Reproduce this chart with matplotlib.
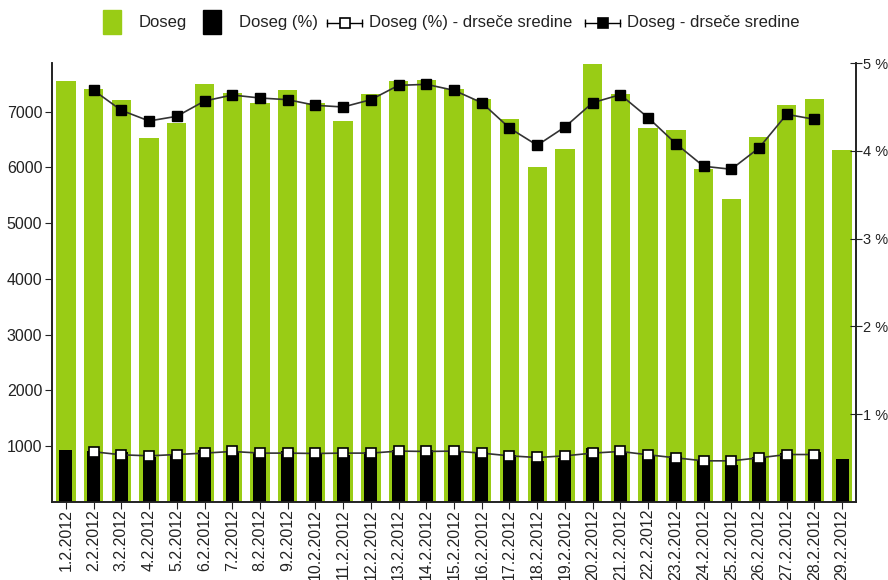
import numpy as np
import matplotlib
matplotlib.use("Agg")
from matplotlib import pyplot as plt
from matplotlib.patches import Rectangle

plt.rcParams['font.family'] = ['Liberation Sans', 'DejaVu Sans']

days = ["%d.2.2012" % d for d in range(1, 30)]

doseg = [7550, 7414, 7204, 6529, 6805, 7503, 7330, 7156, 7396, 7150,
         6828, 7324, 7550, 7563, 7414, 7235, 6876, 6009, 6338, 7862,
         7324, 6714, 6667, 5980, 5442, 6547, 7127, 7235, 6308]

doseg_pct = [0.59, 0.58, 0.565, 0.51, 0.535, 0.59, 0.575, 0.56, 0.58, 0.56,
             0.535, 0.575, 0.59, 0.595, 0.58, 0.57, 0.54, 0.47, 0.50, 0.615,
             0.575, 0.525, 0.525, 0.47, 0.425, 0.515, 0.56, 0.57, 0.49]

nan = np.nan
doseg_avg = [nan, 7384, 7025, 6834, 6918, 7192, 7300, 7246, 7216, 7115,
             7085, 7216, 7473, 7491, 7384, 7162, 6708, 6398, 6726, 7162,
             7306, 6894, 6428, 6022, 5968, 6350, 6953, 6864, nan]

pct_avg = [nan, 0.572, 0.538, 0.526, 0.541, 0.557, 0.576, 0.557, 0.557, 0.553,
           0.557, 0.557, 0.580, 0.576, 0.580, 0.557, 0.526, 0.507, 0.526, 0.557,
           0.576, 0.538, 0.503, 0.469, 0.469, 0.503, 0.541, 0.541, nan]

labels = ["Doseg", "Doseg (%)", "Doseg (%) - drse\u010de sredine", "Doseg - drse\u010de sredine"]

green = '#99cc15'
x = np.arange(len(days))

fig = plt.figure(figsize=(8.88, 5.80), dpi=100)
ax = fig.add_axes([0.0586, 0.1345, 0.9054, 0.7565])
ax2 = ax.twinx()

ax.bar(x, doseg, width=0.7, color=green, zorder=1)
ax.plot(x, doseg_avg, color='#333333', lw=1.2, marker='s', ms=7.5,
        mfc='black', mec='black', zorder=3)

ax2.bar(x, doseg_pct, width=0.47, color='black', zorder=1)
ax2.plot(x, pct_avg, color='#333333', lw=1.2, marker='s', ms=7,
         mfc='white', mec='black', mew=1.2, zorder=3)

ax.set_xlim(-0.5, len(days) - 0.5)
ax.set_ylim(0, 7870)
ax2.set_ylim(0, 5.0)

ax.set_yticks([1000, 2000, 3000, 4000, 5000, 6000, 7000])
ax2.set_yticks([1, 2, 3, 4, 5])
ax2.set_yticklabels(["%d %%" % v for v in range(1, 6)])
ax.set_xticks(x)
ax.set_xticklabels(days, rotation=90)

for a in (ax, ax2):
    a.spines['top'].set_visible(False)
    for s in a.spines.values():
        s.set_linewidth(1.2)
        s.set_color('#222222')
ax.tick_params(axis='y', direction='out', length=5, labelsize=11.5, colors='#222222', pad=2)
ax.tick_params(axis='x', direction='out', length=5, labelsize=11.5, colors='#222222', pad=0)
ax2.tick_params(axis='y', direction='inout', length=8, labelsize=10.5, colors='#222222', pad=1)

# legend drawn by hand in pixel space across the top
lg = fig.add_axes([0, 0, 1, 1], zorder=-1)
lg.set_xlim(0, 888)
lg.set_ylim(580, 0)
lg.axis('off')
lg.add_patch(Rectangle((103, 10), 18, 24, color=green))
lg.add_patch(Rectangle((203, 10), 18, 24, color='black'))
for x0, fill in [(327, 'white'), (585, 'black')]:
    lg.plot([x0, x0 + 35], [23, 23], color='black', lw=1)
    lg.plot([x0, x0 + 35], [23, 23], ls='none', marker='|', ms=6, color='black')
    lg.plot([x0 + 17.5], [23], ls='none', marker='s', ms=7, mfc=fill, mec='black', mew=1.2)
for tx, lab in zip([139, 239, 369, 627], labels):
    lg.text(tx, 23, lab, fontsize=12, ha='left', va='center', color='#222222')

fig.savefig("out.png", dpi=100)
